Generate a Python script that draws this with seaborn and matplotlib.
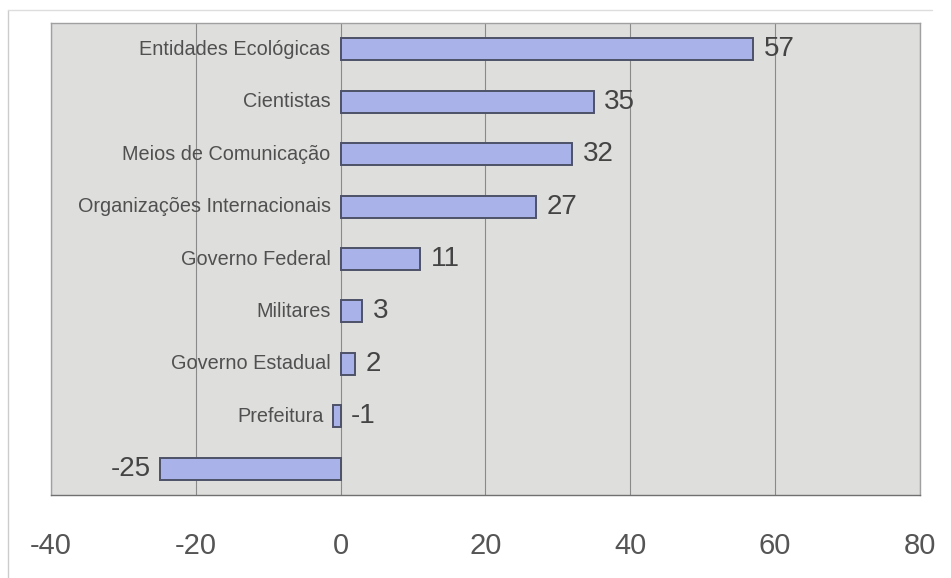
import matplotlib
matplotlib.use('Agg')
import matplotlib.pyplot as plt
import seaborn as sns
import pandas as pd

# data
categorias = ['Entidades Ecológicas', 'Cientistas', 'Meios de Comunicação',
              'Organizações Internacionais', 'Governo Federal', 'Militares',
              'Governo Estadual', 'Prefeitura', '']
valores = [57, 35, 32, 27, 11, 3, 2, -1, -25]
xticks = [-40, -20, 0, 20, 40, 60, 80]

df = pd.DataFrame({'cat': categorias, 'val': valores})

sns.set_style('white')
plt.rcParams['font.family'] = ['Liberation Sans', 'DejaVu Sans']

fig = plt.figure(figsize=(9.51, 5.78), dpi=100)
ax = fig.add_axes([0.0536, 0.1436, 0.9138, 0.8166])
ax.set_facecolor('#dededd')

sns.barplot(data=df, x='val', y='cat', orient='h', color='#a9b3e9',
            edgecolor='#4d5268', linewidth=1.4, width=0.42, saturation=1,
            ax=ax, zorder=3)

ax.set_xlim(-40, 80)
ax.set_ylim(8.5, -0.5)
ax.set_xticks(xticks)
ax.set_xticklabels([str(t) for t in xticks], fontsize=21, color='#555555')
ax.tick_params(axis='x', length=12, width=0.8, color='#8a8a8a', pad=15)
ax.set_yticks([])
ax.set_xlabel('')
ax.set_ylabel('')
ax.grid(axis='x', color='#8a8a8a', linewidth=0.8, zorder=0)
ax.set_axisbelow(True)
for s in ax.spines.values():
    s.set_color('#a0a0a0')
    s.set_linewidth(1.0)
ax.spines['bottom'].set_color('#707070')

for i, (c, v) in enumerate(zip(categorias, valores)):
    if c:
        # category name sits just left of the bar start
        ax.text(min(v, 0) - 1.4, i, c, ha='right', va='center', fontsize=14.3, color='#505050')
        ax.text(max(v, 0) + 1.4, i, str(v), ha='left', va='center', fontsize=20, color='#444444')
    else:
        ax.text(v - 1.2, i, str(v), ha='right', va='center', fontsize=20, color='#444444')

# faint outer frame of the original picture
fig.add_artist(plt.Line2D([0.0085, 0.0085], [0.0, 0.983], color='#cccccc', lw=1))
fig.add_artist(plt.Line2D([0.0085, 0.98], [0.983, 0.983], color='#dddddd', lw=1))

fig.savefig('out.png', dpi=100)
